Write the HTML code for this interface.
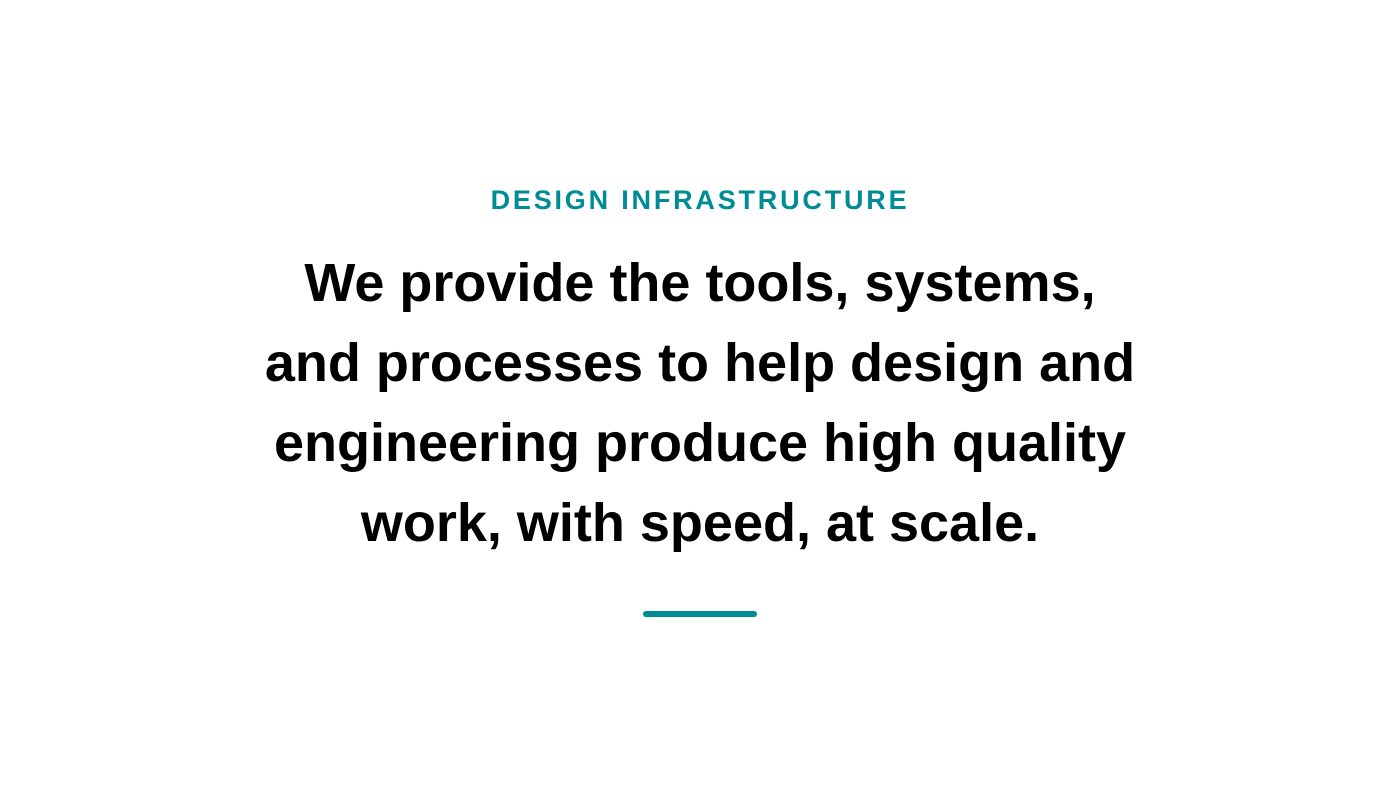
<!DOCTYPE html>
<html><head><meta charset="utf-8"><style>
html,body{margin:0;padding:0;background:#fff;}
body{width:1400px;height:799px;position:relative;overflow:hidden;font-family:"Liberation Sans",sans-serif;}
.kicker{position:absolute;left:0;width:1400px;top:184px;text-align:center;color:#008c95;font-weight:bold;font-size:27px;letter-spacing:2.8px;line-height:32px;}
.main{position:absolute;left:0;width:1400px;top:243px;text-align:center;color:#000;font-weight:bold;font-size:54px;line-height:80px;}
.bar{position:absolute;left:643px;top:611px;width:114px;height:6px;border-radius:3px;background:#008c95;}
</style></head><body>
<div class="kicker">DESIGN INFRASTRUCTURE</div>
<div class="main">We provide the tools, systems,<br>and processes to help design and<br>engineering produce high quality<br>work, with speed, at scale.</div>
<div class="bar"></div>
</body></html>
